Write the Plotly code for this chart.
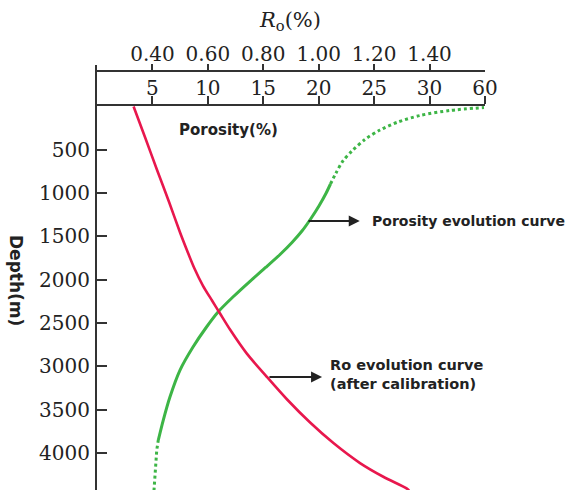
import plotly.graph_objects as go

# ---------------- data ----------------
# Ro evolution curve (after calibration): depth (m) vs Ro (%)
ro_depth = [0, 352, 727, 1103, 1449, 1663, 1859, 2067, 2240, 2390, 2575, 2850,
            3118, 3383, 3649, 3886, 4117, 4275, 4409, 4434]
ro_value = [0.332, 0.373, 0.416, 0.460, 0.499, 0.525, 0.550, 0.582, 0.615, 0.644, 0.680,
            0.740, 0.812, 0.886, 0.969, 1.053, 1.149, 1.233, 1.317, 1.326]

# Porosity evolution curve: depth (m) vs porosity (axis units; last tick labelled 60)
por_deep_depth = [4434, 4236, 3967, 3851]          # dotted (deep)
por_deep_value = [5.14, 5.23, 5.39, 5.53]
por_main_depth = [3851, 3620, 3354, 3043, 2777, 2546, 2370, 2188, 2018, 1856, 1709,
                  1570, 1438, 1293, 1149, 1005, 895]
por_main_value = [5.53, 5.98, 6.58, 7.49, 8.66, 9.88, 10.94, 12.36, 13.80, 15.24, 16.51,
                  17.59, 18.49, 19.30, 20.02, 20.65, 21.06]
por_shallow_depth = [895, 768, 629, 514, 381, 271, 179, 104, 46, 12]   # dotted (shallow)
por_shallow_value = [21.06, 21.56, 22.19, 23.00, 24.17, 25.53, 27.15, 29.14, 31.84, 34.91]

por_tickvals = [5, 10, 15, 20, 25, 30, 35]
por_ticktext = ["5", "10", "15", "20", "25", "30", "60"]
ro_tickvals = [0.4, 0.6, 0.8, 1.0, 1.2, 1.4]
ro_ticktext = ["0.40", "0.60", "0.80", "1.00", "1.20", "1.40"]
depth_tickvals = [500, 1000, 1500, 2000, 2500, 3000, 3500, 4000]

# ---------------- style ----------------
RED = "#e8174d"
GREEN = "#3db546"
AX = "#333333"
SERIF = "DejaVu Serif"
SANS = "DejaVu Sans"

fig = go.Figure()
fig.add_trace(go.Scatter(x=por_deep_value, y=por_deep_depth, mode="lines",
                         line=dict(color=GREEN, width=3, dash="dot"), xaxis="x", yaxis="y"))
fig.add_trace(go.Scatter(x=por_main_value, y=por_main_depth, mode="lines",
                         line=dict(color=GREEN, width=3, shape="spline", smoothing=0.8),
                         xaxis="x", yaxis="y"))
fig.add_trace(go.Scatter(x=por_shallow_value, y=por_shallow_depth, mode="lines",
                         line=dict(color=GREEN, width=3, dash="dot", shape="spline", smoothing=0.8),
                         xaxis="x", yaxis="y"))
fig.add_trace(go.Scatter(x=ro_value, y=ro_depth, mode="lines",
                         line=dict(color=RED, width=2.6, shape="spline", smoothing=0.8),
                         xaxis="x2", yaxis="y"))

H = 425.0
fig.update_layout(
    width=574, height=490,
    margin=dict(l=97, r=89, t=65, b=0),
    paper_bgcolor="white", plot_bgcolor="white",
    showlegend=False,
    xaxis=dict(range=[0, 35], side="top", anchor="free", position=(490 - 105) / H,
               tickvals=por_tickvals, ticktext=por_ticktext,
               showline=True, linecolor=AX, linewidth=2,
               ticks="outside", ticklen=8, tickwidth=2, tickcolor=AX,
               ticklabelstandoff=-7,
               tickfont=dict(family=SERIF, size=20, color="#222"),
               showgrid=False, zeroline=False, fixedrange=True),
    xaxis2=dict(range=[0.2, 1.6], side="top", anchor="free", overlaying="x",
                position=(490 - 71) / H,
                tickvals=ro_tickvals, ticktext=ro_ticktext,
                showline=True, linecolor=AX, linewidth=2,
                ticks="outside", ticklen=6, tickwidth=2, tickcolor=AX,
                ticklabelstandoff=-5,
                tickfont=dict(family=SERIF, size=20, color="#222"),
                showgrid=False, zeroline=False, fixedrange=True),
    yaxis=dict(range=[4428, -479], tickvals=depth_tickvals,
               showline=True, linecolor=AX, linewidth=2,
               ticks="inside", ticklen=10, tickwidth=2, tickcolor=AX,
               ticklabelstandoff=1,
               tickfont=dict(family=SERIF, size=20, color="#222"),
               showgrid=False, zeroline=False, fixedrange=True),
)

ann = []
ann.append(dict(text="<i>R</i><sub>o</sub>(%)", xref="paper", yref="paper",
                x=(290 - 97) / 388, y=(490 - 21) / H, xanchor="center", yanchor="middle",
                showarrow=False, font=dict(family=SERIF, size=21, color="#222")))
ann.append(dict(text="<b>Depth(m)</b>", xref="paper", yref="paper",
                x=(16 - 97) / 388, y=(490 - 280) / H, xanchor="center", yanchor="middle",
                showarrow=False, textangle=90,
                font=dict(family=SANS, size=17, color="#222")))
ann.append(dict(text="<b>Porosity(%)</b>", xref="x", yref="y", x=11.9, y=271,
                xanchor="center", yanchor="middle",
                showarrow=False, font=dict(family=SANS, size=15, color="#222")))
# arrows
ann.append(dict(text="", xref="x", yref="y", axref="x", ayref="y",
                x=23.7, y=1322, ax=18.94, ay=1322, showarrow=True,
                arrowhead=2, arrowsize=1.1, arrowwidth=2, arrowcolor="#222", standoff=0))
ann.append(dict(text="<b>Porosity evolution curve</b>", xref="x", yref="y",
                x=24.63, y=1322, xanchor="left", yanchor="middle", showarrow=False,
                font=dict(family=SANS, size=14, color="#222")))
ann.append(dict(text="", xref="x", yref="y", axref="x", ayref="y",
                x=20.3, y=3124, ax=15.42, ay=3124, showarrow=True,
                arrowhead=2, arrowsize=1.1, arrowwidth=2, arrowcolor="#222", standoff=0))
ann.append(dict(text="<b>Ro evolution curve<br>(after calibration)</b>", xref="x", yref="y",
                x=20.84, y=3089, xanchor="left", yanchor="middle", align="left", showarrow=False,
                font=dict(family=SANS, size=14.5, color="#222")))
fig.update_layout(annotations=ann)

fig.write_html("out.html")
